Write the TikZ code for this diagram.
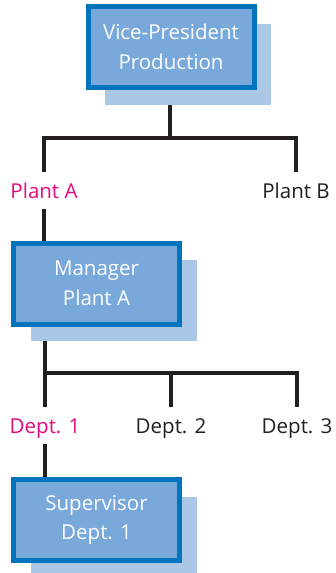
\documentclass[tikz,border=0pt]{standalone}
\usepackage{fontspec}
\setmainfont{Open Sans}
\usetikzlibrary{backgrounds,shadows}
\definecolor{boxfill}{HTML}{79A9DB}
\definecolor{boxline}{HTML}{0074BD}
\definecolor{shadowblue}{HTML}{ABC7E6}
\definecolor{pinklabel}{HTML}{E5097F}
\definecolor{linegray}{HTML}{231F20}
\tikzset{
  orgbox/.style={draw=boxline, line width=5pt, fill=boxfill, text=white,
    minimum width=166pt, minimum height=81pt, inner sep=0pt, align=center,
    font=\fontsize{20.5pt}{29.5pt}\selectfont,
    general shadow={shadow xshift=17pt, shadow yshift=-17pt, fill=shadowblue, draw=none}},
  lbl/.style={inner xsep=0pt, inner ysep=11pt, text height=15pt, text depth=0pt,
    font=\fontsize{20.5pt}{24pt}\selectfont, text=linegray},
  hot/.style={lbl, text=pinklabel},
  conn/.style={draw=linegray, line width=4pt, line join=miter}
}
\begin{document}
\begin{tikzpicture}[x=1pt, y=-1pt]
\useasboundingbox (0,0) rectangle (335,573);
\node[orgbox] (vp) at (171,47) {Vice-President\\Production};
\node[orgbox] (mgr) at (96.5,283.5) {Manager\\Plant A};
\node[orgbox] (sup) at (96.5,520) {Supervisor\\Dept. 1};
\node[hot, anchor=base] (pa) at (44,198) {Plant A};
\node[lbl, anchor=base] (pb) at (296,198) {Plant B};
\node[hot, anchor=base] (d1) at (45,433) {Dept. 1};
\node[lbl, anchor=base] (d2) at (171,433) {Dept. 2};
\node[lbl, anchor=base] (d3) at (297,433) {Dept. 3};
\coordinate (hA) at (170,138);
\coordinate (hB) at (171,373);
\begin{pgfonlayer}{background}
\draw[conn] (vp.south -| hA) -- (hA);
\draw[conn] (pa.north) |- (hA) -| (pb.north);
\draw[conn] (pa.south) -- (pa.south |- mgr.north);
\draw[conn] (d1.north |- mgr.south) -- (d1.north |- hB);
\draw[conn] (d1.north) |- (hB) -| (d3.north);
\draw[conn] (d2.north) -- (d2.north |- hB);
\draw[conn] (d1.south) -- (d1.south |- sup.north);
\end{pgfonlayer}
\end{tikzpicture}
\end{document}
